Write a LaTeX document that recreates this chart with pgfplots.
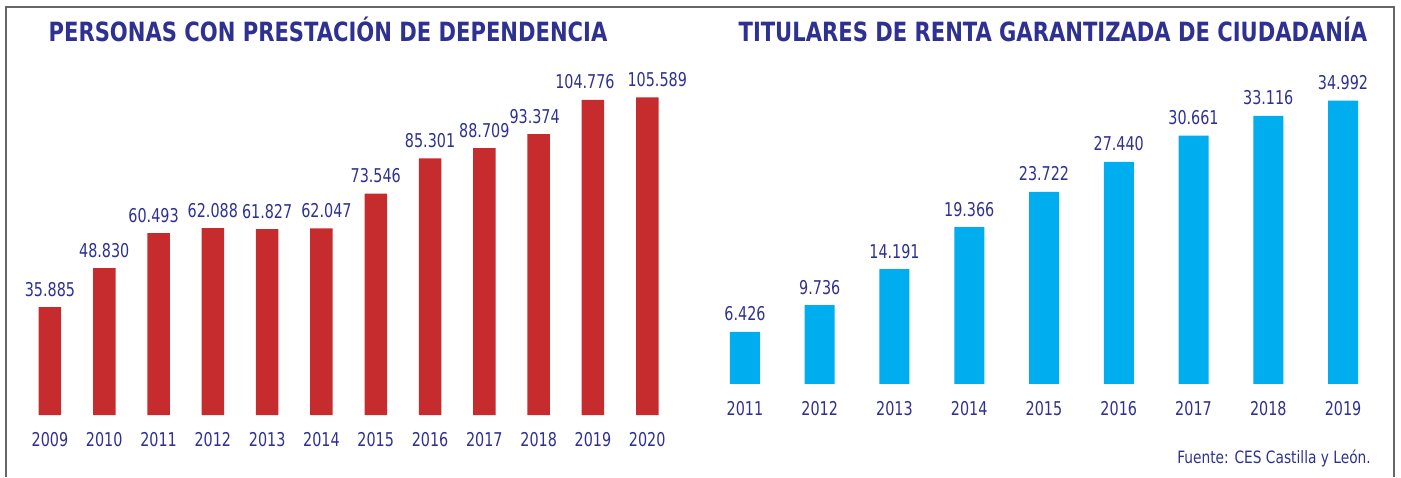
\documentclass[border=0pt]{standalone}
\usepackage{fontspec}
\setmainfont{DejaVu Sans Condensed}
\newfontfamily\numfont{DejaVu Sans Condensed}[FakeStretch=0.84]
\newfontfamily\titlefont{DejaVu Sans Condensed}[FakeStretch=0.885]
\newfontfamily\srcfont{DejaVu Sans Condensed}[FakeStretch=0.9]
\usepackage{pgfplots}
\pgfplotsset{compat=1.18}
\definecolor{navy}{HTML}{2E3192}
\definecolor{barred}{HTML}{C62B2D}
\definecolor{barblue}{HTML}{00AEEF}
\begin{document}
\begin{tikzpicture}
\path[use as bounding box] (0,0) rectangle (1401pt,477pt);
\draw[line width=1.2pt, black!60] (6pt,0pt) -- (6pt,470pt) -- (1394pt,470pt) -- (1394pt,0pt);
\pgfplotsset{
  mybars/.style={
    scale only axis,
    axis line style={draw=none},
    ytick=\empty,
    ymin=0,
    xtick=data,
    major tick length=0pt,
    xticklabel style={font=\numfont\fontsize{19}{21}\selectfont, text=navy, inner sep=0pt, anchor=north, yshift=-17pt},
    nodes near coords,
    point meta=explicit symbolic,
    nodes near coords style={font=\numfont\fontsize{19}{21}\selectfont, text=navy, inner sep=0pt, anchor=south, yshift=10.5pt},
    clip=false,
  }
}
\begin{axis}[mybars,
  at={(22.8pt,62pt)}, anchor=south west,
  width=651.6pt, height=361pt,
  xmin=-0.5, xmax=11.5, ymax=120000,
  xticklabels={2009,2010,2011,2012,2013,2014,2015,2016,2017,2018,2019,2020},
]
\addplot[ybar, bar width=22.5pt, fill=barred, draw=none,
  coordinate style/.condition={x==2}{xshift=-5pt},
  coordinate style/.condition={x==5}{xshift=5pt},
  coordinate style/.condition={x==9}{xshift=-4pt},
  coordinate style/.condition={x==10}{xshift=-8pt},
  coordinate style/.condition={x==11}{xshift=10pt},
] coordinates {
(0,35885) [35.885]
(1,48830) [48.830]
(2,60493) [60.493]
(3,62088) [62.088]
(4,61827) [61.827]
(5,62047) [62.047]
(6,73546) [73.546]
(7,85301) [85.301]
(8,88709) [88.709]
(9,93374) [93.374]
(10,104776) [104.776]
(11,105589) [105.589]
};
\end{axis}
\begin{axis}[mybars,
  at={(707.6pt,93pt)}, anchor=south west,
  width=672.8pt, height=323.9pt,
  xmin=-0.5, xmax=8.5, ymax=40000,
  xticklabels={2011,2012,2013,2014,2015,2016,2017,2018,2019},
]
\addplot[ybar, bar width=30pt, fill=barblue, draw=none] coordinates {
(0,6426) [6.426]
(1,9736) [9.736]
(2,14191) [14.191]
(3,19366) [19.366]
(4,23722) [23.722]
(5,27440) [27.440]
(6,30661) [30.661]
(7,33116) [33.116]
(8,34992) [34.992]
};
\end{axis}
\node[text=navy, font=\titlefont\bfseries\fontsize{26.5}{28}\selectfont] at (328pt,447.3pt) {PERSONAS CON PRESTACIÓN DE DEPENDENCIA};
\node[text=navy, font=\titlefont\bfseries\fontsize{26.5}{28}\selectfont] at (1053pt,447.3pt) {TITULARES DE RENTA GARANTIZADA DE CIUDADANÍA};
\node[text=navy, font=\srcfont\fontsize{17}{19}\selectfont, anchor=east, inner sep=0pt] at (1371pt,19pt) {Fuente: CES Castilla y León.};
\end{tikzpicture}
\end{document}
